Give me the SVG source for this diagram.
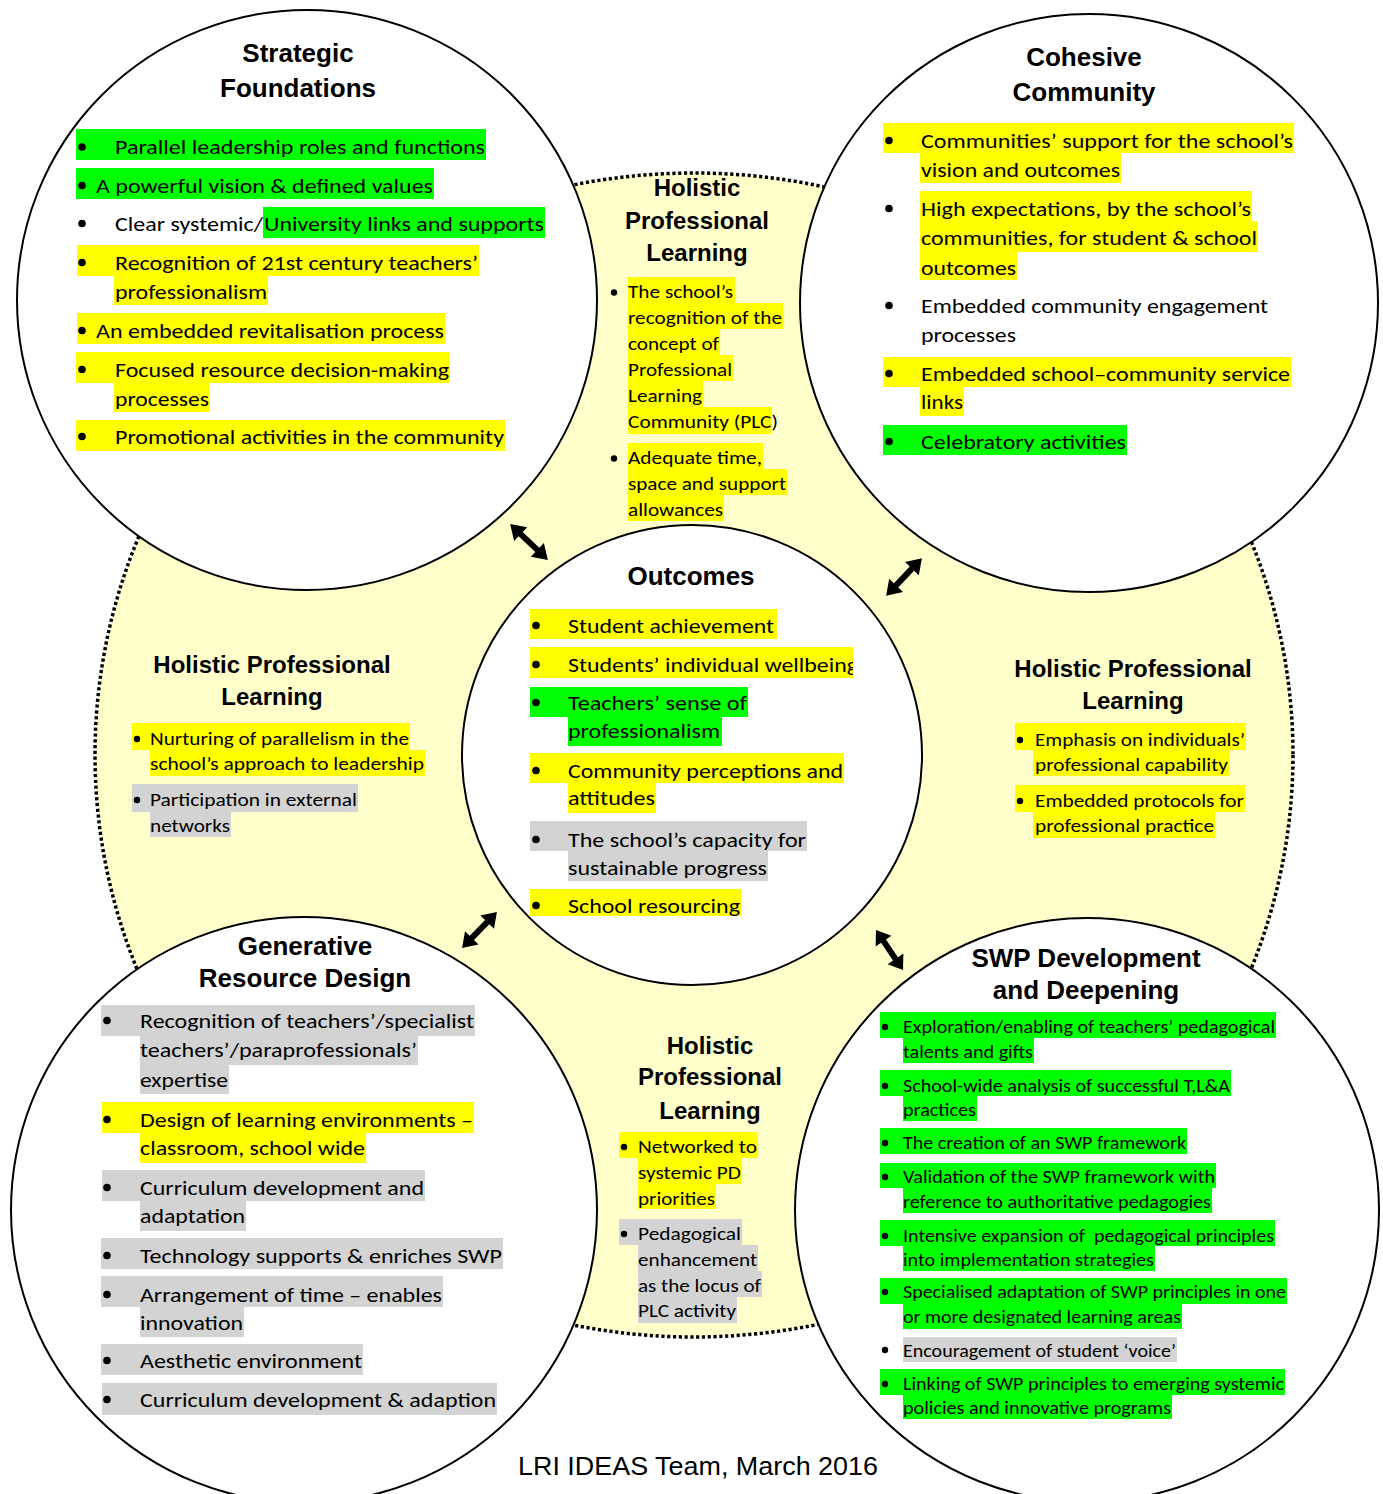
<svg xmlns="http://www.w3.org/2000/svg" xmlns:xlink="http://www.w3.org/1999/xlink" width="1383" height="1494" viewBox="0 0 1383 1494">
<style>
  .ring { fill:#ffffff; stroke:#000000; stroke-width:2; }
  .zone { fill:#FFFFCC; stroke:#000000; stroke-width:3.5; stroke-dasharray:3.2 2.6; }
  .g { fill:#00FF00; }
  .y { fill:#FFFF00; }
  .k { fill:#D3D3D3; }
  .dot { fill:#000000; }
  .h { font-family:"Liberation Sans", Arial, sans-serif; font-weight:bold; text-anchor:middle; fill:#000; }
  .h26 { font-size:26px; }
  .h24 { font-size:24px; }
  .t { font-family:Carlito, Lato, "Open Sans", sans-serif; fill:#000; }
  .L { font-size:21px; }
  .M { font-size:19px; }
  .S { font-size:17.5px; }
  .cap { font-family:"Liberation Sans", Arial, sans-serif; font-size:26px; text-anchor:middle; fill:#000; }
</style>
<defs>
  <path id="dbl" d="M-26,0 L-11.5,-9.5 L-11.5,-3 L11.5,-3 L11.5,-9.5 L26,0 L11.5,9.5 L11.5,3 L-11.5,3 L-11.5,9.5 Z"/>
  <clipPath id="clipOutcomes"><rect x="520" y="600" width="333" height="316"/></clipPath>
  <clipPath id="clipSwp"><rect x="870" y="1000" width="430" height="419"/></clipPath>
</defs>

<!-- shaded professional-learning zone -->
<ellipse id="zone" class="zone" cx="694" cy="755" rx="599" ry="582"/>

<!-- Strategic Foundations -->
<g id="strategic-foundations">
  <circle class="ring" cx="307" cy="300" r="290"/>
  <text class="h h26" x="298" y="62">Strategic</text>
  <text class="h h26" x="298" y="97">Foundations</text>
  <rect class="g" x="76" y="129" width="410" height="31"/>
  <rect class="g" x="76" y="168" width="358" height="31"/>
  <rect class="g" x="263" y="207" width="282" height="31"/>
  <rect class="y" x="77" y="245" width="402" height="31"/>
  <rect class="y" x="114" y="275" width="154" height="30"/>
  <rect class="y" x="77" y="313" width="368" height="31"/>
  <rect class="y" x="76" y="352" width="374" height="31"/>
  <rect class="y" x="114" y="382" width="96" height="30"/>
  <rect class="y" x="76" y="420" width="429" height="31"/>
  <circle class="dot" cx="82" cy="147" r="3.8"/>
  <circle class="dot" cx="82" cy="185.5" r="3.8"/>
  <circle class="dot" cx="82" cy="223.5" r="3.8"/>
  <circle class="dot" cx="82" cy="262.5" r="3.8"/>
  <circle class="dot" cx="82" cy="330.5" r="3.8"/>
  <circle class="dot" cx="82" cy="369.5" r="3.8"/>
  <circle class="dot" cx="82" cy="436.5" r="3.8"/>
  <text class="t L" x="115" y="154" textLength="370" lengthAdjust="spacingAndGlyphs">Parallel leadership roles and functions</text>
  <text class="t L" x="96" y="193" textLength="337" lengthAdjust="spacingAndGlyphs">A powerful vision &amp; defined values</text>
  <text class="t L" x="115" y="231" textLength="148" lengthAdjust="spacingAndGlyphs">Clear systemic/</text>
  <text class="t L" x="264" y="231" textLength="280" lengthAdjust="spacingAndGlyphs">University links and supports</text>
  <text class="t L" x="115" y="270" textLength="363" lengthAdjust="spacingAndGlyphs">Recognition of 21st century teachers’</text>
  <text class="t L" x="115" y="299" textLength="152" lengthAdjust="spacingAndGlyphs">professionalism</text>
  <text class="t L" x="96" y="338" textLength="348" lengthAdjust="spacingAndGlyphs">An embedded revitalisation process</text>
  <text class="t L" x="115" y="377" textLength="334" lengthAdjust="spacingAndGlyphs">Focused resource decision-making</text>
  <text class="t L" x="115" y="406" textLength="94" lengthAdjust="spacingAndGlyphs">processes</text>
  <text class="t L" x="115" y="444" textLength="389" lengthAdjust="spacingAndGlyphs">Promotional activities in the community</text>
</g>

<!-- Cohesive Community -->
<g id="cohesive-community">
  <circle class="ring" cx="1089" cy="303" r="289"/>
  <text class="h h26" x="1084" y="66">Cohesive</text>
  <text class="h h26" x="1084" y="101">Community</text>
  <rect class="y" x="883" y="123" width="411" height="30"/>
  <rect class="y" x="920" y="153" width="201" height="30"/>
  <rect class="y" x="920" y="191" width="332" height="30"/>
  <rect class="y" x="920" y="221" width="338" height="31"/>
  <rect class="y" x="920" y="252" width="97" height="28"/>
  <rect class="y" x="883" y="357" width="408" height="30"/>
  <rect class="y" x="920" y="387" width="44" height="29"/>
  <rect class="g" x="883" y="425" width="244" height="30"/>
  <circle class="dot" cx="889" cy="140.5" r="3.8"/>
  <circle class="dot" cx="889" cy="208.5" r="3.8"/>
  <circle class="dot" cx="889" cy="305.5" r="3.8"/>
  <circle class="dot" cx="889" cy="373.5" r="3.8"/>
  <circle class="dot" cx="889" cy="441.5" r="3.8"/>
  <text class="t L" x="921" y="148" textLength="372" lengthAdjust="spacingAndGlyphs">Communities’ support for the school’s</text>
  <text class="t L" x="921" y="177" textLength="199" lengthAdjust="spacingAndGlyphs">vision and outcomes</text>
  <text class="t L" x="921" y="216" textLength="330" lengthAdjust="spacingAndGlyphs">High expectations, by the school’s</text>
  <text class="t L" x="921" y="245" textLength="336" lengthAdjust="spacingAndGlyphs">communities, for student &amp; school</text>
  <text class="t L" x="921" y="275" textLength="95" lengthAdjust="spacingAndGlyphs">outcomes</text>
  <text class="t L" x="921" y="313" textLength="347" lengthAdjust="spacingAndGlyphs">Embedded community engagement</text>
  <text class="t L" x="921" y="342" textLength="95" lengthAdjust="spacingAndGlyphs">processes</text>
  <text class="t L" x="921" y="381" textLength="369" lengthAdjust="spacingAndGlyphs">Embedded school–community service</text>
  <text class="t L" x="921" y="409" textLength="42" lengthAdjust="spacingAndGlyphs">links</text>
  <text class="t L" x="921" y="449" textLength="205" lengthAdjust="spacingAndGlyphs">Celebratory activities</text>
</g>

<!-- Generative Resource Design -->
<g id="generative-resource-design">
  <circle class="ring" cx="304" cy="1210" r="293"/>
  <text class="h h26" x="305" y="955">Generative</text>
  <text class="h h26" x="305" y="987">Resource Design</text>
  <rect class="k" x="101" y="1005" width="374" height="31"/>
  <rect class="k" x="140" y="1036" width="278" height="29"/>
  <rect class="k" x="140" y="1065" width="89" height="29"/>
  <rect class="y" x="102" y="1102" width="372" height="31"/>
  <rect class="y" x="140" y="1133" width="226" height="30"/>
  <rect class="k" x="102" y="1170" width="323" height="31"/>
  <rect class="k" x="140" y="1201" width="106" height="30"/>
  <rect class="k" x="101" y="1238" width="402" height="31"/>
  <rect class="k" x="101" y="1276" width="342" height="31"/>
  <rect class="k" x="140" y="1307" width="104" height="30"/>
  <rect class="k" x="101" y="1344" width="262" height="31"/>
  <rect class="k" x="102" y="1383" width="395" height="32"/>
  <circle class="dot" cx="107" cy="1020.5" r="3.8"/>
  <circle class="dot" cx="107" cy="1119.5" r="3.8"/>
  <circle class="dot" cx="107" cy="1187.5" r="3.8"/>
  <circle class="dot" cx="107" cy="1255.5" r="3.8"/>
  <circle class="dot" cx="107" cy="1294.5" r="3.8"/>
  <circle class="dot" cx="107" cy="1360.5" r="3.8"/>
  <circle class="dot" cx="107" cy="1399.5" r="3.8"/>
  <text class="t L" x="140" y="1028" textLength="334" lengthAdjust="spacingAndGlyphs">Recognition of teachers’/specialist</text>
  <text class="t L" x="140" y="1057" textLength="277" lengthAdjust="spacingAndGlyphs">teachers’/paraprofessionals’</text>
  <text class="t L" x="140" y="1087" textLength="88" lengthAdjust="spacingAndGlyphs">expertise</text>
  <text class="t L" x="140" y="1127" textLength="333" lengthAdjust="spacingAndGlyphs">Design of learning environments –</text>
  <text class="t L" x="140" y="1155" textLength="225" lengthAdjust="spacingAndGlyphs">classroom, school wide</text>
  <text class="t L" x="140" y="1195" textLength="284" lengthAdjust="spacingAndGlyphs">Curriculum development and</text>
  <text class="t L" x="140" y="1223" textLength="105" lengthAdjust="spacingAndGlyphs">adaptation</text>
  <text class="t L" x="140" y="1263" textLength="362" lengthAdjust="spacingAndGlyphs">Technology supports &amp; enriches SWP</text>
  <text class="t L" x="140" y="1302" textLength="302" lengthAdjust="spacingAndGlyphs">Arrangement of time – enables</text>
  <text class="t L" x="140" y="1330" textLength="103" lengthAdjust="spacingAndGlyphs">innovation</text>
  <text class="t L" x="140" y="1368" textLength="222" lengthAdjust="spacingAndGlyphs">Aesthetic environment</text>
  <text class="t L" x="140" y="1407" textLength="356" lengthAdjust="spacingAndGlyphs">Curriculum development &amp; adaption</text>
</g>

<!-- SWP Development and Deepening -->
<g id="swp-development">
  <circle class="ring" cx="1087" cy="1210" r="292"/>
  <text class="h h26" x="1086" y="967">SWP Development</text>
  <text class="h h26" x="1086" y="999">and Deepening</text>
  <g clip-path="url(#clipSwp)">
    <rect class="g" x="880" y="1012" width="396" height="26"/>
    <rect class="g" x="903" y="1038" width="131" height="25"/>
    <rect class="g" x="880" y="1070" width="351" height="26"/>
    <rect class="g" x="903" y="1096" width="74" height="25"/>
    <rect class="g" x="880" y="1128" width="307" height="26"/>
    <rect class="g" x="880" y="1163" width="336" height="25"/>
    <rect class="g" x="903" y="1188" width="309" height="25"/>
    <rect class="g" x="880" y="1220" width="395" height="26"/>
    <rect class="g" x="903" y="1246" width="252" height="25"/>
    <rect class="g" x="880" y="1278" width="407" height="26"/>
    <rect class="g" x="903" y="1304" width="279" height="25"/>
    <rect class="k" x="903" y="1337" width="274" height="25"/>
    <rect class="g" x="880" y="1369" width="405" height="26"/>
    <rect class="g" x="903" y="1395" width="269" height="25"/>
    <circle class="dot" cx="885" cy="1027" r="3.2"/>
    <circle class="dot" cx="885" cy="1086" r="3.2"/>
    <circle class="dot" cx="885" cy="1143" r="3.2"/>
    <circle class="dot" cx="885" cy="1177" r="3.2"/>
    <circle class="dot" cx="885" cy="1236" r="3.2"/>
    <circle class="dot" cx="885" cy="1292" r="3.2"/>
    <circle class="dot" cx="885" cy="1350" r="3.2"/>
    <circle class="dot" cx="885" cy="1384" r="3.2"/>
    <text class="t S" x="903" y="1033" textLength="372" lengthAdjust="spacingAndGlyphs">Exploration/enabling of teachers’ pedagogical</text>
    <text class="t S" x="903" y="1058" textLength="130" lengthAdjust="spacingAndGlyphs">talents and gifts</text>
    <text class="t S" x="903" y="1092" textLength="327" lengthAdjust="spacingAndGlyphs">School-wide analysis of successful T,L&amp;A</text>
    <text class="t S" x="903" y="1116" textLength="73" lengthAdjust="spacingAndGlyphs">practices</text>
    <text class="t S" x="903" y="1149" textLength="283" lengthAdjust="spacingAndGlyphs">The creation of an SWP framework</text>
    <text class="t S" x="903" y="1183" textLength="312" lengthAdjust="spacingAndGlyphs">Validation of the SWP framework with</text>
    <text class="t S" x="903" y="1208" textLength="308" lengthAdjust="spacingAndGlyphs">reference to authoritative pedagogies</text>
    <text class="t S" x="903" y="1242" textLength="371" lengthAdjust="spacingAndGlyphs" style="white-space:pre">Intensive expansion of  pedagogical principles</text>
    <text class="t S" x="903" y="1266" textLength="251" lengthAdjust="spacingAndGlyphs">into implementation strategies</text>
    <text class="t S" x="903" y="1298" textLength="383" lengthAdjust="spacingAndGlyphs">Specialised adaptation of SWP principles in one</text>
    <text class="t S" x="903" y="1323" textLength="278" lengthAdjust="spacingAndGlyphs">or more designated learning areas</text>
    <text class="t S" x="903" y="1357" textLength="273" lengthAdjust="spacingAndGlyphs">Encouragement of student ‘voice’</text>
    <text class="t S" x="903" y="1390" textLength="381" lengthAdjust="spacingAndGlyphs">Linking of SWP principles to emerging systemic</text>
    <text class="t S" x="903" y="1414" textLength="268" lengthAdjust="spacingAndGlyphs">policies and innovative programs</text>
  </g>
</g>

<!-- Outcomes (centre) -->
<g id="outcomes">
  <circle class="ring" cx="692" cy="755" r="230"/>
  <text class="h h26" x="691" y="585">Outcomes</text>
  <g clip-path="url(#clipOutcomes)">
    <rect class="y" x="530" y="609" width="247" height="30"/>
    <rect class="y" x="530" y="647" width="323" height="31"/>
    <rect class="g" x="530" y="687" width="218" height="30"/>
    <rect class="g" x="568" y="717" width="154" height="29"/>
    <rect class="y" x="530" y="753" width="314" height="30"/>
    <rect class="y" x="568" y="783" width="88" height="30"/>
    <rect class="k" x="530" y="821" width="277" height="30"/>
    <rect class="k" x="568" y="851" width="200" height="30"/>
    <rect class="y" x="530" y="889" width="211" height="28"/>
    <circle class="dot" cx="536" cy="625.5" r="3.8"/>
    <circle class="dot" cx="536" cy="664.5" r="3.8"/>
    <circle class="dot" cx="536" cy="702.5" r="3.8"/>
    <circle class="dot" cx="536" cy="770.5" r="3.8"/>
    <circle class="dot" cx="536" cy="839.5" r="3.8"/>
    <circle class="dot" cx="536" cy="905.5" r="3.8"/>
    <text class="t L" x="568" y="633" textLength="206" lengthAdjust="spacingAndGlyphs">Student achievement</text>
    <text class="t L" x="568" y="672" textLength="290" lengthAdjust="spacingAndGlyphs">Students’ individual wellbeing</text>
    <text class="t L" x="568" y="710" textLength="179" lengthAdjust="spacingAndGlyphs">Teachers’ sense of</text>
    <text class="t L" x="568" y="738" textLength="152" lengthAdjust="spacingAndGlyphs">professionalism</text>
    <text class="t L" x="568" y="778" textLength="275" lengthAdjust="spacingAndGlyphs">Community perceptions and</text>
    <text class="t L" x="568" y="805" textLength="87" lengthAdjust="spacingAndGlyphs">attitudes</text>
    <text class="t L" x="568" y="847" textLength="238" lengthAdjust="spacingAndGlyphs">The school’s capacity for</text>
    <text class="t L" x="568" y="875" textLength="199" lengthAdjust="spacingAndGlyphs">sustainable progress</text>
    <text class="t L" x="568" y="913" textLength="172" lengthAdjust="spacingAndGlyphs">School resourcing</text>
  </g>
</g>

<!-- Holistic Professional Learning: top -->
<g id="hpl-top">
  <text class="h h24" x="697" y="196">Holistic</text>
  <text class="h h24" x="697" y="229">Professional</text>
  <text class="h h24" x="697" y="261">Learning</text>
  <rect class="y" x="628" y="277" width="107" height="26"/>
  <rect class="y" x="628" y="303" width="155" height="26"/>
  <rect class="y" x="628" y="329" width="92" height="26"/>
  <rect class="y" x="628" y="355" width="105" height="26"/>
  <rect class="y" x="628" y="381" width="75" height="26"/>
  <rect class="y" x="628" y="407" width="144" height="27"/>
  <rect class="y" x="628" y="443" width="135" height="26"/>
  <rect class="y" x="628" y="469" width="159" height="26"/>
  <rect class="y" x="628" y="495" width="96" height="26"/>
  <circle class="dot" cx="614" cy="292.5" r="3.2"/>
  <circle class="dot" cx="614" cy="458.5" r="3.2"/>
  <text class="t M" x="628" y="298" textLength="105" lengthAdjust="spacingAndGlyphs">The school’s</text>
  <text class="t M" x="628" y="324" textLength="154" lengthAdjust="spacingAndGlyphs">recognition of the</text>
  <text class="t M" x="628" y="350" textLength="91" lengthAdjust="spacingAndGlyphs">concept of</text>
  <text class="t M" x="628" y="376" textLength="104" lengthAdjust="spacingAndGlyphs">Professional</text>
  <text class="t M" x="628" y="402" textLength="74" lengthAdjust="spacingAndGlyphs">Learning</text>
  <text class="t M" x="628" y="428" textLength="150" lengthAdjust="spacingAndGlyphs">Community (PLC)</text>
  <text class="t M" x="628" y="464" textLength="134" lengthAdjust="spacingAndGlyphs">Adequate time,</text>
  <text class="t M" x="628" y="490" textLength="158" lengthAdjust="spacingAndGlyphs">space and support</text>
  <text class="t M" x="628" y="516" textLength="95" lengthAdjust="spacingAndGlyphs">allowances</text>
</g>

<!-- Holistic Professional Learning: left -->
<g id="hpl-left">
  <text class="h h24" x="272" y="673">Holistic Professional</text>
  <text class="h h24" x="272" y="705">Learning</text>
  <rect class="y" x="132" y="723" width="278" height="27"/>
  <rect class="y" x="150" y="750" width="275" height="26"/>
  <rect class="k" x="132" y="784" width="226" height="28"/>
  <rect class="k" x="150" y="812" width="81" height="25"/>
  <circle class="dot" cx="137" cy="739" r="3.2"/>
  <circle class="dot" cx="137" cy="800" r="3.2"/>
  <text class="t M" x="150" y="745" textLength="259" lengthAdjust="spacingAndGlyphs">Nurturing of parallelism in the</text>
  <text class="t M" x="150" y="770" textLength="274" lengthAdjust="spacingAndGlyphs">school’s approach to leadership</text>
  <text class="t M" x="150" y="806" textLength="207" lengthAdjust="spacingAndGlyphs">Participation in external</text>
  <text class="t M" x="150" y="832" textLength="80" lengthAdjust="spacingAndGlyphs">networks</text>
</g>

<!-- Holistic Professional Learning: right -->
<g id="hpl-right">
  <text class="h h24" x="1133" y="677">Holistic Professional</text>
  <text class="h h24" x="1133" y="709">Learning</text>
  <rect class="y" x="1015" y="723" width="231" height="27"/>
  <rect class="y" x="1033" y="750" width="196" height="26"/>
  <rect class="y" x="1015" y="785" width="230" height="27"/>
  <rect class="y" x="1033" y="812" width="182" height="26"/>
  <circle class="dot" cx="1020" cy="740" r="3.2"/>
  <circle class="dot" cx="1020" cy="801" r="3.2"/>
  <text class="t M" x="1035" y="746" textLength="210" lengthAdjust="spacingAndGlyphs">Emphasis on individuals’</text>
  <text class="t M" x="1035" y="771" textLength="193" lengthAdjust="spacingAndGlyphs">professional capability</text>
  <text class="t M" x="1035" y="807" textLength="209" lengthAdjust="spacingAndGlyphs">Embedded protocols for</text>
  <text class="t M" x="1035" y="832" textLength="179" lengthAdjust="spacingAndGlyphs">professional practice</text>
</g>

<!-- Holistic Professional Learning: bottom -->
<g id="hpl-bottom">
  <text class="h h24" x="710" y="1054">Holistic</text>
  <text class="h h24" x="710" y="1085">Professional</text>
  <text class="h h24" x="710" y="1119">Learning</text>
  <rect class="y" x="619" y="1132" width="139" height="26"/>
  <rect class="y" x="638" y="1158" width="104" height="26"/>
  <rect class="y" x="638" y="1184" width="78" height="25"/>
  <rect class="k" x="619" y="1219" width="123" height="26"/>
  <rect class="k" x="638" y="1245" width="120" height="26"/>
  <rect class="k" x="638" y="1271" width="124" height="26"/>
  <rect class="k" x="638" y="1297" width="99" height="26"/>
  <circle class="dot" cx="624" cy="1147" r="3.2"/>
  <circle class="dot" cx="624" cy="1234" r="3.2"/>
  <text class="t M" x="638" y="1153" textLength="119" lengthAdjust="spacingAndGlyphs">Networked to</text>
  <text class="t M" x="638" y="1179" textLength="103" lengthAdjust="spacingAndGlyphs">systemic PD</text>
  <text class="t M" x="638" y="1205" textLength="77" lengthAdjust="spacingAndGlyphs">priorities</text>
  <text class="t M" x="638" y="1240" textLength="103" lengthAdjust="spacingAndGlyphs">Pedagogical</text>
  <text class="t M" x="638" y="1266" textLength="119" lengthAdjust="spacingAndGlyphs">enhancement</text>
  <text class="t M" x="638" y="1292" textLength="123" lengthAdjust="spacingAndGlyphs">as the locus of</text>
  <text class="t M" x="638" y="1317" textLength="98" lengthAdjust="spacingAndGlyphs">PLC activity</text>
</g>

<!-- two-way links between each domain and the outcomes -->
<g id="connectors">
  <use xlink:href="#dbl" transform="translate(529,542) rotate(43.5)"/>
  <use xlink:href="#dbl" transform="translate(904,577) rotate(-46.5)"/>
  <use xlink:href="#dbl" transform="translate(479.5,930) rotate(-45.8) scale(0.96,1)"/>
  <use xlink:href="#dbl" transform="translate(889.5,950) rotate(56) scale(0.93,1)"/>
</g>

<text class="cap" x="698" y="1475" textLength="360" lengthAdjust="spacingAndGlyphs">LRI IDEAS Team, March 2016</text>
</svg>
